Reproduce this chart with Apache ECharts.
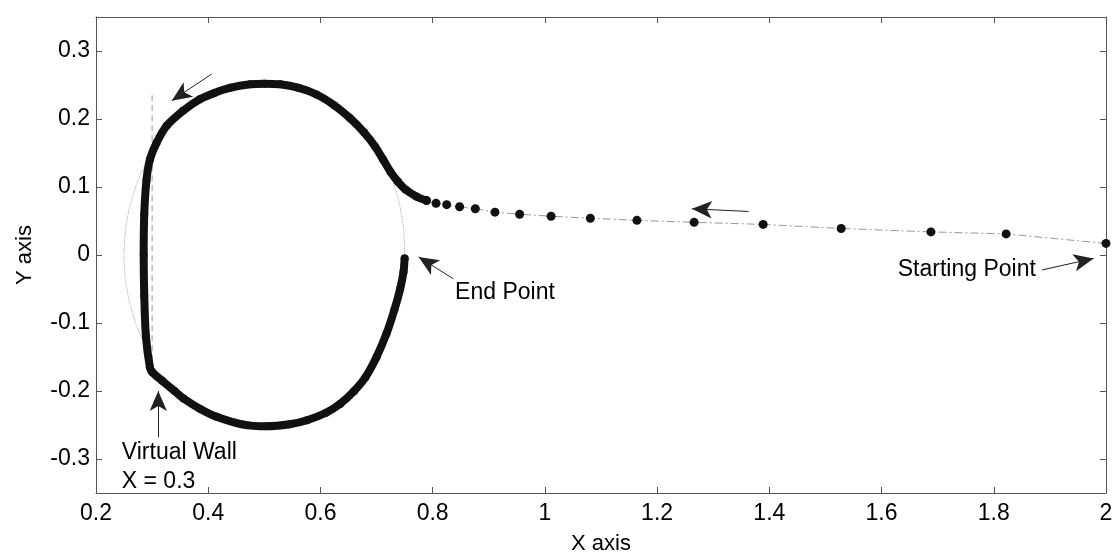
<!DOCTYPE html>
<html>
<head>
<meta charset="utf-8">
<script src="https://cdn.jsdelivr.net/npm/echarts@6/dist/echarts.min.js"></script>
<style>
  html, body { margin: 0; padding: 0; background: #fff; }
  #chart { width: 1120px; height: 560px; }
</style>
</head>
<body>
<div id="chart"></div>
<script>
// approach: sparse dots, read right to left from the picture
var approachX = [2.0, 1.822, 1.688, 1.528, 1.389, 1.266, 1.164, 1.081, 1.011, 0.955, 0.911, 0.876, 0.848, 0.825, 0.806, 0.789];
var approachY = [0.017, 0.031, 0.034, 0.039, 0.045, 0.048, 0.051, 0.054, 0.057, 0.060, 0.063, 0.068, 0.071, 0.074, 0.076, 0.080];

// loop: dense part that looks like a thick line
var loopX = [0.789, 0.771, 0.752, 0.738, 0.725, 0.712, 0.697, 0.678, 0.653, 0.625, 0.593, 0.560, 0.528, 0.500, 0.475, 0.440, 0.410, 0.385, 0.355, 0.326, 0.308, 0.296, 0.290, 0.286, 0.285, 0.286, 0.289, 0.296, 0.300, 0.318, 0.340, 0.356, 0.385, 0.415, 0.460, 0.504, 0.545, 0.576, 0.610, 0.635, 0.660, 0.680, 0.700, 0.718, 0.732, 0.742, 0.748, 0.750];
var loopY = [0.080, 0.086, 0.096, 0.108, 0.122, 0.140, 0.160, 0.180, 0.201, 0.220, 0.236, 0.246, 0.251, 0.252, 0.251, 0.246, 0.238, 0.229, 0.212, 0.190, 0.165, 0.140, 0.110, 0.060, 0.000, -0.060, -0.120, -0.165, -0.172, -0.185, -0.200, -0.211, -0.226, -0.238, -0.249, -0.252, -0.249, -0.243, -0.232, -0.219, -0.200, -0.180, -0.150, -0.115, -0.080, -0.050, -0.025, -0.005];

// thin grey reference circle, only the visible bits
var circleLeftX = [0.300, 0.280, 0.265, 0.255, 0.251, 0.250, 0.251, 0.255, 0.265, 0.280, 0.300];
var circleLeftY = [0.150, 0.119, 0.085, 0.050, 0.020, 0.000, -0.020, -0.050, -0.085, -0.119, -0.150];
var circleRightX = [0.727, 0.738, 0.745, 0.749, 0.750];
var circleRightY = [0.111, 0.085, 0.055, 0.030, 0.000];

// virtual wall at x = 0.3
var wallX = [0.3, 0.3];
var wallY = [0.235, -0.18];

var xTicks = { min: 0.2, max: 2, step: 0.2 };
var yTicks = { min: -0.35, max: 0.35 };

// arrows [tailX, tailY, tipX, tipY]
var arrows = [
  [0.406, 0.266, 0.335, 0.227],
  [1.363, 0.064, 1.262, 0.068],
  [0.837, -0.035, 0.775, -0.003],
  [1.886, -0.022, 1.978, -0.005],
  [0.311, -0.268, 0.311, -0.200]
];
var noteText = ["End Point", "Starting Point", "Virtual Wall", "X = 0.3"];
var noteX = [0.840, 1.875, 0.246, 0.246];
var noteY = [-0.055, -0.022, -0.290, -0.334];
var noteAlign = ["left", "right", "left", "left"];

function pairs(xs, ys) {
  return xs.map(function (x, i) { return [x, ys[i]]; });
}

var FONT = "Liberation Sans, Arial, sans-serif";
var myChart = echarts.init(document.getElementById("chart"));

var axisLine = { show: true, onZero: false, lineStyle: { color: "#555", width: 1 } };
var tick = { show: true, inside: true, length: 6, lineStyle: { color: "#555" } };

var option = {
  animation: false,
  backgroundColor: "#fff",
  grid: { left: 96, right: 14, top: 17, bottom: 64, containLabel: false },
  xAxis: [
    {
      type: "value", min: xTicks.min, max: xTicks.max, interval: xTicks.step,
      name: "X axis", nameLocation: "middle", nameGap: 40,
      nameTextStyle: { fontSize: 22, color: "#000", fontFamily: FONT },
      axisLine: axisLine, axisTick: tick, splitLine: { show: false },
      axisLabel: { fontSize: 23, color: "#000", fontFamily: FONT, margin: 9 }
    },
    {
      type: "value", position: "top", min: xTicks.min, max: xTicks.max, interval: xTicks.step,
      axisLine: axisLine, axisTick: tick, splitLine: { show: false }, axisLabel: { show: false }
    }
  ],
  yAxis: [
    {
      type: "value", min: yTicks.min, max: yTicks.max, splitNumber: 7,
      name: "Y axis", nameLocation: "middle", nameGap: 60,
      nameTextStyle: { fontSize: 22, color: "#000", fontFamily: FONT },
      axisLine: axisLine, axisTick: tick, splitLine: { show: false },
      axisLabel: { fontSize: 23, color: "#000", fontFamily: FONT, margin: 6, showMinLabel: false, showMaxLabel: false }
    },
    {
      type: "value", position: "right", min: yTicks.min, max: yTicks.max, splitNumber: 7,
      axisLine: axisLine, axisTick: tick, splitLine: { show: false }, axisLabel: { show: false }
    }
  ],
  series: [
    {
      type: "line", data: pairs(circleLeftX, circleLeftY), smooth: true, symbol: "none",
      lineStyle: { color: "#aaa", width: 1, type: "dotted" }, z: 1
    },
    {
      type: "line", data: pairs(circleRightX, circleRightY), smooth: true, symbol: "none",
      lineStyle: { color: "#aaa", width: 1, type: "dotted" }, z: 1
    },
    {
      type: "line", data: pairs(wallX, wallY), symbol: "none",
      lineStyle: { color: "#999", width: 1, type: [6, 4] }, z: 1,
      markLine: {
        silent: true, animation: false,
        symbol: ["none", "arrow"], symbolSize: [13, 20],
        label: { show: false },
        lineStyle: { color: "#222", width: 1, type: "solid" },
        data: arrows.map(function (a) {
          return [{ coord: [a[0], a[1]] }, { coord: [a[2], a[3]] }];
        })
      }
    },
    {
      type: "line", data: pairs(approachX, approachY), symbol: "circle", symbolSize: 9,
      itemStyle: { color: "#111" },
      lineStyle: { color: "#999", width: 1, type: [8, 3, 2, 3] }, z: 3
    },
    {
      type: "line", data: pairs(loopX, loopY), smooth: 0.3, symbol: "circle", symbolSize: 8,
      itemStyle: { color: "#111" },
      lineStyle: { color: "#111", width: 8, cap: "round", join: "round" }, z: 4
    },
    {
      type: "scatter", symbolSize: 0, silent: true, z: 5,
      data: noteText.map(function (t, i) {
        return {
          value: [noteX[i], noteY[i]], name: t,
          label: { align: noteAlign[i], color: "#000" }
        };
      }),
      label: {
        show: true, position: [0, 0], verticalAlign: "middle",
        fontSize: 23, color: "#000", fontFamily: FONT,
        formatter: function (p) { return p.name; }
      },
      itemStyle: { color: "#000", opacity: 1 }
    }
  ]
};
myChart.setOption(option);
</script>
</body>
</html>
